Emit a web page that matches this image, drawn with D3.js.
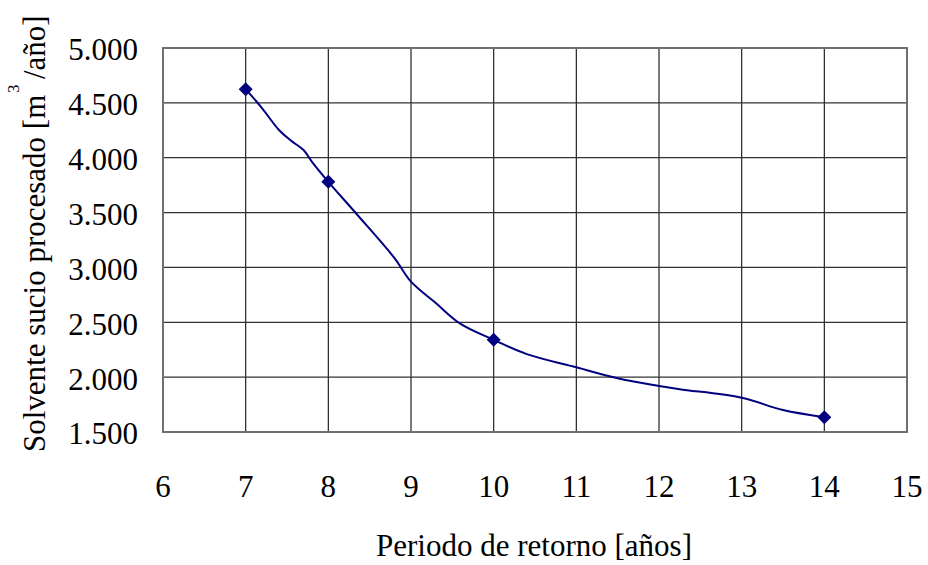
<!DOCTYPE html>
<html>
<head>
<meta charset="utf-8">
<script src="https://cdn.jsdelivr.net/npm/d3@7"></script>
<style>
  body { margin: 0; background: #fff; }
  svg { display: block; }
</style>
</head>
<body>
<div class="chart"></div>
<script>
// DATA
var periodos = [7, 8, 10, 14];
var solvente = [4625, 3780, 2340, 1635];

// smoothed line
var curvaX = [7, 7.2, 7.4, 7.55, 7.7, 7.8, 8, 8.35, 8.8, 9, 9.3, 9.6, 10, 10.4, 11, 11.5, 12, 12.25, 13, 13.5, 14];
var curvaY = [4625, 4450, 4255, 4155, 4070, 3965, 3780, 3480, 3085, 2870, 2675, 2485, 2340, 2210, 2090, 1990, 1920, 1890, 1812, 1700, 1635];

var xTicks = [6, 7, 8, 9, 10, 11, 12, 13, 14, 15];
var yTicks = [1500, 2000, 2500, 3000, 3500, 4000, 4500, 5000];

var xTitle = 'Periodo de retorno [años]';

// SIZES
var width = 928, height = 565;
var plotLeft = 163, plotRight = 907, plotTop = 48, plotBottom = 432;

var svg = d3.select('.chart').append('svg')
  .attr('width', width)
  .attr('height', height);

var x = d3.scaleLinear().domain([6, 15]).range([plotLeft, plotRight]);
var y = d3.scaleLinear().domain([1500, 5000]).range([plotBottom, plotTop]);

// every text gets the serif font set on itself
var serifText = function (sel, size) {
  return sel.style('font-family', 'Liberation Serif')
    .style('font-size', size + 'px')
    .attr('fill', '#000');
};

// gridlines
svg.append('g').selectAll('line')
  .data(xTicks.slice(1, -1))
  .enter().append('line')
  .attr('x1', function (d) { return x(d); })
  .attr('x2', function (d) { return x(d); })
  .attr('y1', plotTop)
  .attr('y2', plotBottom)
  .attr('stroke', '#222')
  .attr('stroke-width', 1.2);

svg.append('g').selectAll('line')
  .data(yTicks.slice(1, -1))
  .enter().append('line')
  .attr('x1', plotLeft)
  .attr('x2', plotRight)
  .attr('y1', function (d) { return y(d); })
  .attr('y2', function (d) { return y(d); })
  .attr('stroke', '#333')
  .attr('stroke-width', 1.2);

// plot border
svg.append('rect')
  .attr('x', plotLeft)
  .attr('y', plotTop)
  .attr('width', plotRight - plotLeft)
  .attr('height', plotBottom - plotTop)
  .attr('fill', 'none')
  .attr('stroke', '#707070')
  .attr('stroke-width', 2);

// tick labels, Excel style (no tick marks)
var fmt = function (d) { return d3.format(',')(d).replace(',', '.'); };

svg.append('g').selectAll('text')
  .data(yTicks)
  .enter().append('text')
  .attr('x', plotLeft - 25)
  .attr('y', function (d) { return y(d); })
  .attr('dy', '0.40em')
  .attr('text-anchor', 'end')
  .text(fmt)
  .call(serifText, 31);

svg.append('g').selectAll('text')
  .data(xTicks)
  .enter().append('text')
  .attr('x', function (d) { return x(d); })
  .attr('y', plotBottom + 65)
  .attr('text-anchor', 'middle')
  .text(function (d) { return d; })
  .call(serifText, 31);

// line
var curva = curvaX.map(function (d, i) { return [d, curvaY[i]]; });
var line = d3.line()
  .x(function (d) { return x(d[0]); })
  .y(function (d) { return y(d[1]); })
  .curve(d3.curveCatmullRom.alpha(0.5));

svg.append('path')
  .datum(curva)
  .attr('d', line)
  .attr('fill', 'none')
  .attr('stroke', '#000080')
  .attr('stroke-width', 2);

// markers
svg.append('g').selectAll('path')
  .data(periodos)
  .enter().append('path')
  .attr('transform', function (d, i) { return 'translate(' + x(d) + ',' + y(solvente[i]) + ')'; })
  .attr('d', 'M0,-7L7,0L0,7L-7,0Z')
  .attr('fill', '#000080');

// titles
svg.append('text')
  .attr('x', (plotLeft + plotRight) / 2 - 1)
  .attr('y', 556)
  .attr('text-anchor', 'middle')
  .text(xTitle)
  .call(serifText, 31);

var yt = svg.append('text')
  .attr('transform', 'translate(45,452) rotate(-90)')
  .attr('text-anchor', 'start')
  .call(serifText, 31);
yt.append('tspan').attr('x', 0).style('font-family', 'Liberation Serif').text('Solvente sucio procesado [m');
yt.append('tspan').attr('x', 359).attr('dy', -26).style('font-family', 'Liberation Serif').style('font-size', '17px').text('3');
yt.append('tspan').attr('x', 373).attr('dy', 26).style('font-family', 'Liberation Serif').text('/año]');
</script>
</body>
</html>
